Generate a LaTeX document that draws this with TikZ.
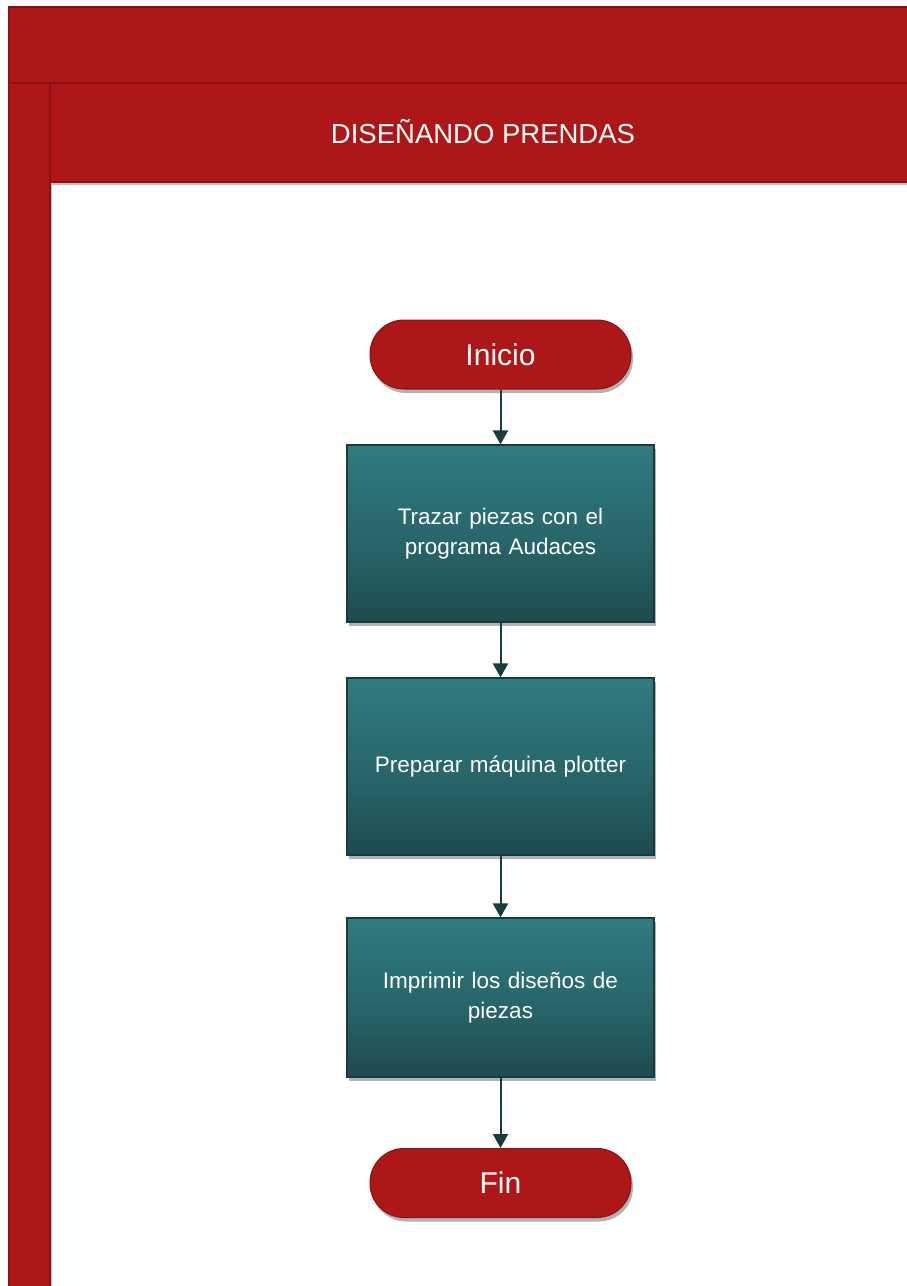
\documentclass[tikz,border=0pt]{standalone}
\usepackage{fontspec}
\setmainfont{Liberation Sans}
\usetikzlibrary{shadows,arrows.meta,positioning}
\definecolor{lanered}{HTML}{AE1717}
\definecolor{laneedge}{HTML}{8E1111}
\definecolor{tealtop}{HTML}{2F7B7F}
\definecolor{tealbot}{HTML}{1E4B4F}
\definecolor{tealedge}{HTML}{163C3F}
\tikzset{
  x=1pt, y=-1pt,
  lane/.style={fill=lanered, draw=laneedge, line width=1.2pt,
    drop shadow={shadow xshift=2pt, shadow yshift=-3pt, opacity=0.25, fill=black}},
  terminal/.style={rectangle, rounded corners=34pt, minimum width=261pt, minimum height=69pt,
    fill=lanered, draw=laneedge, line width=1pt, text=white, font=\fontsize{30}{33}\selectfont,
    drop shadow={shadow xshift=2pt, shadow yshift=-4pt, opacity=0.3, fill=black}},
  process/.style={rectangle, minimum width=307pt, top color=tealtop, bottom color=tealbot,
    middle color=tealtop!60!tealbot, draw=tealedge, line width=1.2pt, text=white, align=center,
    text width=270pt, font=\fontsize{22.5}{30}\selectfont,
    drop shadow={shadow xshift=2pt, shadow yshift=-4pt, opacity=0.3, fill=black}},
  flow/.style={draw=tealedge, line width=2pt, -{Triangle[length=14pt, width=15pt]}},
}
\begin{document}
\begin{tikzpicture}
\useasboundingbox (0,0) rectangle (907,1286);
\fill[white] (0,0) rectangle (907,1286);
% swimlane frame
\draw[lane] (9,7) rectangle (915,83);
\draw[lane] (9,83) rectangle (50,1295);
\draw[lane] (50,83) rectangle (915,182);
\node[text=white, font=\fontsize{27.5}{30}\selectfont] (title) at (483,132) {DISEÑANDO PRENDAS};
% flow
\node[terminal] (inicio) at (500.5,354.5) {Inicio};
\node[process, minimum height=177pt] (p1) at (500.5,533.5) {Trazar piezas con el\\programa Audaces};
\node[process, minimum height=177pt] (p2) at (500.5,766.5) {Preparar máquina plotter};
\node[process, minimum height=159pt] (p3) at (500.5,997.5) {Imprimir los diseños de\\piezas};
\node[terminal] (fin) at (500.5,1183) {Fin};
\draw[flow] (inicio) -- (p1);
\draw[flow] (p1) -- (p2);
\draw[flow] (p2) -- (p3);
\draw[flow] (p3) -- (fin);
\end{tikzpicture}
\end{document}
